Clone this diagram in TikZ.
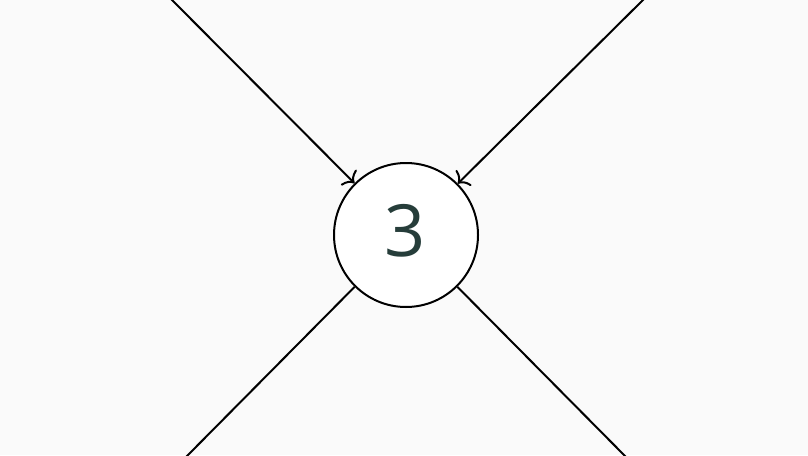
\documentclass[tikz,border=0pt]{standalone}
\usepackage{fontspec}
\setmainfont{Open Sans}
\usetikzlibrary{arrows.meta}
\definecolor{bgc}{HTML}{FAFAFA}
\definecolor{digitc}{HTML}{263D3A}
\tikzset{
  ring/.style={circle, draw=black, fill=white, line width=2pt, minimum size=144pt, inner sep=0pt},
  digit/.style={text=digitc, font=\fontsize{72}{72}\selectfont, inner sep=0pt},
  edge/.style={draw=black, line width=2pt},
  inarrow/.style={edge, -{To[length=9pt,width=22pt,line width=2pt]}}
}
\begin{document}
\begin{tikzpicture}[x=1pt,y=-1pt]
\useasboundingbox (0,0) rectangle (808,455);
\fill[bgc] (0,0) rectangle (808,455);
\coordinate (tl) at (170,-2);
\coordinate (tr) at (645,-2);
\coordinate (bl) at (186,457);
\coordinate (br) at (626,457);
\node[ring] (c) at (406,235) {};
\node[digit] (n) at (405,231) {3};
\draw[inarrow] (tl) -- (c);
\draw[inarrow] (tr) -- (c);
\draw[edge] (bl) -- (c);
\draw[edge] (br) -- (c);
\end{tikzpicture}
\end{document}
